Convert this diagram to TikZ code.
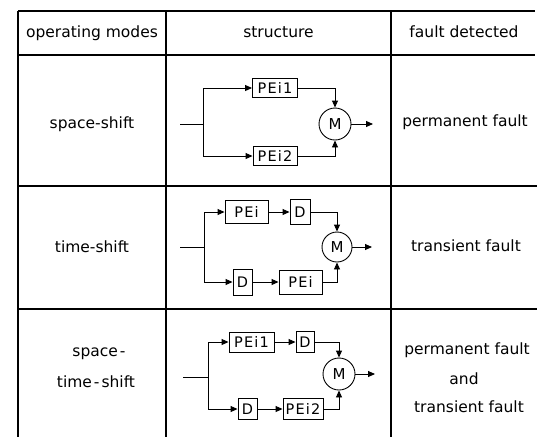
\documentclass[tikz,border=0pt]{standalone}
\usepackage{fontspec}
\setmainfont{DejaVu Sans}
\newfontfamily\blockfont[LetterSpace=8]{DejaVu Sans}
\usetikzlibrary{arrows.meta}
\begin{document}
\begin{tikzpicture}[x=1pt,y=-1pt,
  rule/.style={line width=1.1pt},
  wire/.style={line width=0.9pt},
  flow/.style={wire,-{Triangle[length=7pt,width=6pt]}},
  pe/.style={draw,line width=0.9pt,inner sep=0pt,font=\blockfont\fontsize{14.5}{15}\selectfont},
  voter/.style={draw,circle,line width=0.9pt,minimum size=32pt,inner sep=0pt,font=\fontsize{15}{15}\selectfont},
  cell/.style={anchor=mid,inner sep=0pt,font=\fontsize{15.5}{18}\selectfont}
]
\useasboundingbox (0,0) rectangle (537,437);

% table rules
\draw[rule] (18,11) -- (535,11);
\draw[rule] (18,55) -- (535,55);
\draw[rule] (18,186) -- (537,186);
\draw[rule] (18,309) -- (537,309);
\draw[rule] (18,11) -- (18,437);
\draw[rule] (166,11) -- (166,437);
\draw[rule] (391,11) -- (391,437);

% header
\node[cell] (h1) at (92,35) {operating modes};
\node[cell] (h2) at (278.5,35) {structure};
\node[cell] (h3) at (464,35) {fault detected};

% mode and fault texts
\node[cell] (r1a) at (92,126) {space-shift};
\node[cell] (r1b) at (465,124) {permanent fault};
\node[cell] (r2a) at (92,250) {time-shift};
\node[cell] (r2b) at (466,249) {transient fault};
\node[cell] (r3a) at (99,354) {space\hspace{2pt}-};
\node[cell] (r3b) at (96,385) {time\hspace{2pt}-\hspace{2pt}shift};
\node[cell] (r3c) at (467,352) {permanent fault};
\node[cell] (r3d) at (464,382) {and};
\node[cell] (r3e) at (469,410) {transient fault};

% space-shift structure
\coordinate (in1) at (180,124);
\coordinate (br1) at (203,124);
\node[pe,minimum width=45pt,minimum height=19pt] (p11) at (275,88) {PEi1};
\node[pe,minimum width=44pt,minimum height=19pt] (p12) at (275,156) {PEi2};
\node[voter] (m1) at (335,124) {M};
\coordinate (o1) at (373,124);
\draw[wire] (in1) -- (br1);
\draw[flow] (br1) |- (p11.west);
\draw[flow] (br1) |- (p12.west);
\draw[flow] (p11.east) -| (m1.north);
\draw[flow] (p12.east) -| (m1.south);
\draw[flow] (m1.east) -- (o1);

% time-shift structure
\coordinate (in2) at (180,247);
\coordinate (br2) at (204,247);
\node[pe,minimum width=43pt,minimum height=23pt] (p21) at (246.5,212) {PEi};
\node[pe,minimum width=20pt,minimum height=25pt] (d21) at (300,212) {D};
\node[voter,minimum size=30pt] (m2) at (337,247) {M};
\node[pe,minimum width=19pt,minimum height=26pt] (d22) at (242.5,282) {D};
\node[pe,minimum width=43pt,minimum height=24pt] (p22) at (300.5,282) {PEi};
\coordinate (o2) at (372,247);
\draw[wire] (in2) -- (br2);
\draw[flow] (br2) |- (p21.west);
\draw[flow] (p21.east) -- (d21.west);
\draw[flow] (d21.east) -| (m2.north);
\draw[flow] (br2) |- (d22.west);
\draw[flow] (d22.east) -- (p22.west);
\draw[flow] (p22.east) -| (m2.south);
\draw[flow] (m2.east) -- (o2);

% space-time-shift structure
\coordinate (in3) at (183,377);
\coordinate (br3) at (208,377);
\node[pe,minimum width=45pt,minimum height=20pt] (p31) at (251.5,342) {PEi1};
\node[pe,minimum width=18pt,minimum height=21pt] (d31) at (305,342) {D};
\node[voter] (m3) at (339,374) {M};
\node[pe,minimum width=19pt,minimum height=21pt] (d32) at (247.5,409) {D};
\node[pe,minimum width=40pt,minimum height=21pt] (p32) at (303,409) {PEi2};
\coordinate (o3) at (375,374);
\draw[wire] (in3) -- (br3);
\draw[flow] (br3) |- (p31.west);
\draw[flow] (p31.east) -- (d31.west);
\draw[flow] (d31.east) -| (m3.north);
\draw[flow] (br3) |- (d32.west);
\draw[flow] (d32.east) -- (p32.west);
\draw[flow] (p32.east) -| (m3.south);
\draw[flow] (m3.east) -- (o3);
\end{tikzpicture}
\end{document}
